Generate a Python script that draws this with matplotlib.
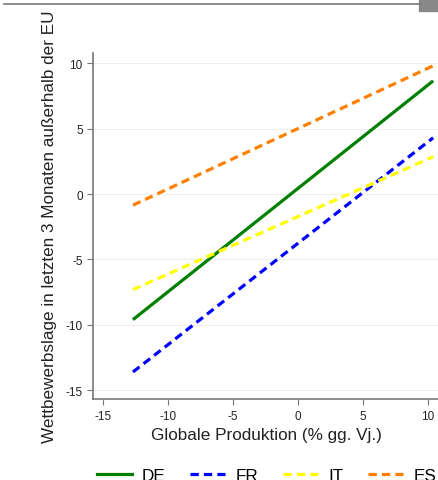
import matplotlib.pyplot as plt
from matplotlib.lines import Line2D

plt.rcParams["font.family"] = ["Liberation Sans", "DejaVu Sans"]
plt.rcParams["axes.unicode_minus"] = False

# data (line end points)
countries = ["DE", "FR", "IT", "ES"]
x_start = [-12.7, -12.7, -12.7, -12.7]
x_end = [10.4, 10.4, 10.4, 10.4]
y_start = [-9.6, -13.6, -7.3, -0.85]
y_end = [8.65, 4.3, 2.85, 9.8]
colors = ["#008000", "#0000ff", "#ffff00", "#ff8000"]
styles = ["-", "--", "--", "--"]

xticks = [-15, -10, -5, 0, 5, 10]
yticks = [-15, -10, -5, 0, 5, 10]

fig = plt.figure(figsize=(4.39, 4.81), dpi=100)
ax = fig.add_axes([0.212, 0.168, 0.788, 0.72])

dash = (2.6, 1.6)
handles = []
for i, c in enumerate(countries):
    ax.plot([x_start[i], x_end[i]], [y_start[i], y_end[i]], color=colors[i],
            linestyle=styles[i], linewidth=2.3, solid_capstyle="butt",
            dashes=dash if styles[i] == "--" else (None, None))
    h = Line2D([], [], color=colors[i], linewidth=2.3, linestyle=styles[i])
    if styles[i] == "--":
        h.set_dashes(dash)
    handles.append(h)

ax.set_xlim(-15.77, 10.85)
ax.set_ylim(-15.68, 10.79)
ax.set_xticks(xticks)
ax.set_yticks(yticks)
ax.grid(axis="y", color="#eeeeee", linewidth=0.8)
ax.set_axisbelow(True)
for s in ["top", "right"]:
    ax.spines[s].set_visible(False)
for s in ["left", "bottom"]:
    ax.spines[s].set_color("#777777")
    ax.spines[s].set_linewidth(1.2)
ax.tick_params(colors="#777777", labelcolor="#222222", labelsize=8.5, length=4)
ax.set_xlabel("Globale Produktion (% gg. Vj.)", fontsize=12.3, color="#222222", labelpad=4)
ax.set_ylabel("Wettbewerbslage in letzten 3 Monaten außerhalb der EU", fontsize=12.3,
              color="#222222", labelpad=6)

fig.legend(handles, countries, loc="upper center", bbox_to_anchor=(0.607, 0.057), ncol=4,
           frameon=False, fontsize=12.3, handlelength=2.05, columnspacing=1.45,
           handletextpad=0.6)

# screenshot border remnants at the top
fig.add_artist(Line2D([0.01, 0.96], [0.99, 0.99], color="#777777", linewidth=1.2,
                      transform=fig.transFigure))
fig.add_artist(plt.Rectangle((0.955, 0.975), 0.045, 0.025, color="#888888",
                             transform=fig.transFigure))

fig.savefig("out.png", dpi=100)
